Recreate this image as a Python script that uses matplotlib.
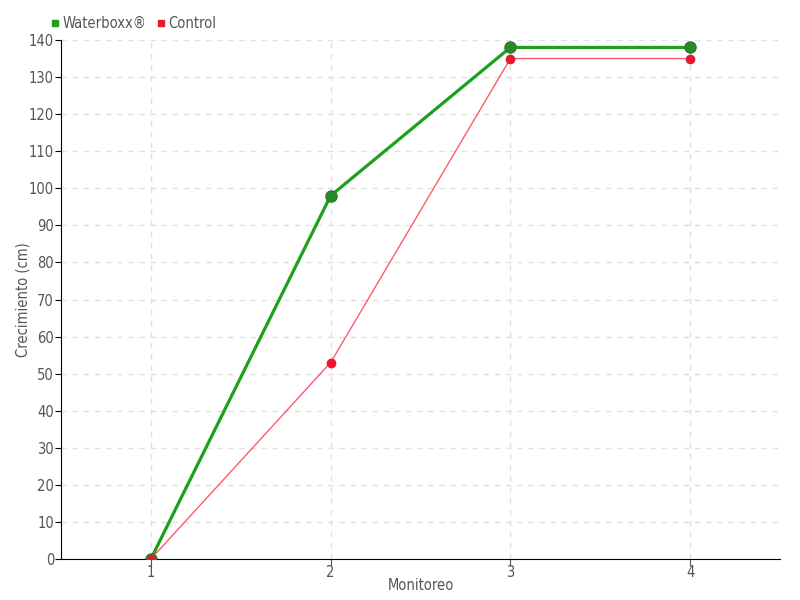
import matplotlib
matplotlib.use("Agg")
import matplotlib.pyplot as plt

monitoreo = [1, 2, 3, 4]
waterboxx = [0, 98, 138, 138]
control = [0, 53, 135, 135]

plt.rcParams['font.family'] = ['DejaVu Sans']
plt.rcParams['font.stretch'] = 'condensed'
txt = '#555555'

fig = plt.figure(figsize=(8, 6), dpi=100)
ax = fig.add_axes([0.07625, 0.0683, 0.89875, 0.865])

ax.plot(monitoreo, control, color='#ff5a6a', lw=1, zorder=3)
ax.plot(monitoreo, control, 'o', color='#e8192c', ms=6, mec='#e8192c', zorder=4, linestyle='none')
ax.plot(monitoreo, waterboxx, color='#1ea01e', lw=2.3, zorder=2)
ax.plot(monitoreo, waterboxx, 'o', color='#2a8a2a', ms=8, mec='#2a7a2a', zorder=2, linestyle='none')
# red dot drawn above green at first point
ax.plot(monitoreo[:1], control[:1], 'o', color='#e8192c', ms=7, mec='#3a7a2a', zorder=5)

ax.set_xlim(0.5, 4.5)
ax.set_ylim(0, 140)
ax.set_xticks(monitoreo)
ax.set_yticks(range(0, 141, 10))
ax.grid(True, color='#e0e0e0', ls=(0, (4, 4)), lw=1)
for s in ['top', 'right']:
    ax.spines[s].set_visible(False)
ax.spines['left'].set_color('black')
ax.spines['bottom'].set_color('black')
ax.tick_params(axis='both', colors=txt, labelsize=10.5, pad=2)
ax.tick_params(axis='y', color='black', length=4, pad=1)
ax.tick_params(axis='x', color='#555555', length=5, pad=-1)
ax.set_xlabel('Monitoreo', color=txt, fontsize=10.5, labelpad=-1)
ax.set_ylabel('Crecimiento (cm)', color=txt, fontsize=10.5, labelpad=-1)

h1 = plt.Line2D([], [], marker='s', color='#1ea01e', ls='none', ms=5)
h2 = plt.Line2D([], [], marker='s', color='#e8192c', ls='none', ms=5)
fig.legend([h1, h2], ['Waterboxx®', 'Control'], loc='upper left', bbox_to_anchor=(0.045, 0.995),
           ncol=2, frameon=False, fontsize=10.5, labelcolor=txt, handletextpad=0.1,
           columnspacing=0.6, handlelength=0.8)

fig.savefig('out.png', dpi=100)
